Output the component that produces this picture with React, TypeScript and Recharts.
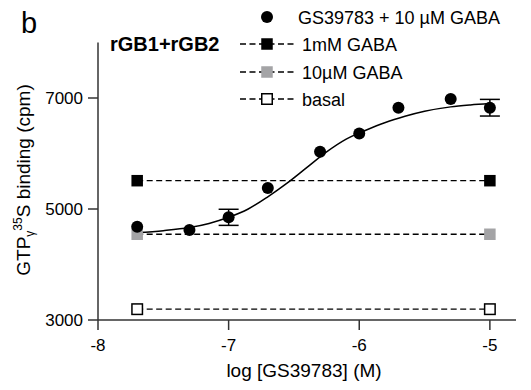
import React from 'react';
import { ComposedChart, Line, Scatter, XAxis, YAxis, ErrorBar } from 'recharts';

// GS39783 + 10 µM GABA (log M, cpm, SEM)
const gsLogConc = [-7.7, -7.3, -7.0, -6.7, -6.3, -6.0, -5.7, -5.3, -5.0];
const gsBinding = [4680, 4620, 4850, 5380, 6030, 6360, 6825, 6980, 6825];
const gsError = [0, 0, 145, 0, 0, 0, 0, 0, 150];

// fitted curve
const fitLogConc = [-7.7, -7.5, -7.3, -7.15, -7.0, -6.85, -6.7, -6.55, -6.4, -6.25, -6.1, -5.95, -5.8, -5.65, -5.5, -5.3, -5.15, -5.0];
const fitBinding = [4575, 4610, 4665, 4740, 4850, 5000, 5220, 5470, 5750, 6030, 6260, 6420, 6560, 6670, 6760, 6840, 6875, 6900];

// reference levels
const refLogConc = [-7.7, -5.0];
const gaba1mM = [5510, 5510];
const gaba10uM = [4545, 4545];
const basal = [3195, 3195];

const xTicks = [-8, -7, -6, -5];
const yTicks = [3000, 5000, 7000];

const legendLabels = ['GS39783 + 10 \u00b5M GABA', '1mM GABA', '10\u00b5M GABA', 'basal'];

const gsData = gsLogConc.map((x, i) => ({ x, y: gsBinding[i], err: gsError[i] }));
const fitData = fitLogConc.map((x, i) => ({ x, y: fitBinding[i] }));
const mk = (vals: number[]) => refLogConc.map((x, i) => ({ x, y: vals[i] }));

const FONT = '"Liberation Sans", Arial, Helvetica, sans-serif';
const GRAY = '#a4a4a6';
const AXIS = '#333';

const squareDot = (fill: string, stroke?: string) => (props: any) => {
  const { cx, cy, index } = props;
  if (cx == null || cy == null) return <g key={index} />;
  const s = stroke ? 10.5 : 11.5;
  return (
    <rect key={index} x={cx - s / 2} y={cy - s / 2} width={s} height={s} fill={fill}
      stroke={stroke || 'none'} strokeWidth={stroke ? 1.5 : 0} />
  );
};

const circleShape = (props: any) => <circle cx={props.cx} cy={props.cy} r={6} fill="#000" />;

const DASH = '6 3.5';

export default function App() {
  const rowY = [17, 44, 72, 99];
  return (
    <div style={{ position: 'relative', width: 531, height: 390, margin: '-8px 0 0 -8px', fontFamily: FONT, background: '#fff' }}>
      <ComposedChart width={531} height={390} margin={{ top: 42.5, right: 15, bottom: 0, left: 0 }} style={{ fontFamily: FONT }}>
        <XAxis type="number" dataKey="x" domain={[-8, -4.8]} ticks={xTicks} allowDataOverflow
          height={70} tickSize={10} tickMargin={9}
          axisLine={{ stroke: AXIS, strokeWidth: 1.5 }} tickLine={{ stroke: AXIS, strokeWidth: 1.5 }}
          tick={{ fill: '#000', fontSize: 17 }}
          label={{ value: 'log [GS39783] (M)', position: 'insideBottom', offset: 13, fill: '#000', fontSize: 19, dx: -3 }} />
        <YAxis type="number" dataKey="y" domain={[3000, 8000]} ticks={yTicks} allowDataOverflow
          width={98} tickSize={10} tickMargin={5}
          axisLine={{ stroke: AXIS, strokeWidth: 1.5 }} tickLine={{ stroke: AXIS, strokeWidth: 1.5 }}
          tick={{ fill: '#000', fontSize: 17 }} />
        <Line data={mk(basal)} dataKey="y" stroke="#000" strokeWidth={1.3} strokeDasharray={DASH}
          dot={squareDot('#fff', '#000')} activeDot={false} isAnimationActive={false} />
        <Line data={mk(gaba10uM)} dataKey="y" stroke="#000" strokeWidth={1.3} strokeDasharray={DASH}
          dot={squareDot(GRAY)} activeDot={false} isAnimationActive={false} />
        <Line data={mk(gaba1mM)} dataKey="y" stroke="#000" strokeWidth={1.3} strokeDasharray={DASH}
          dot={squareDot('#000')} activeDot={false} isAnimationActive={false} />
        <Line data={fitData} dataKey="y" type="monotone" stroke="#000" strokeWidth={1.5}
          dot={false} activeDot={false} isAnimationActive={false} />
        <Scatter data={gsData} dataKey="y" shape={circleShape} isAnimationActive={false}>
          <ErrorBar dataKey="err" direction="y" width={10} stroke="#000" strokeWidth={1.5} />
        </Scatter>
      </ComposedChart>
      <svg width={531} height={390} style={{ position: 'absolute', left: 0, top: 0, pointerEvents: 'none', fontFamily: FONT }}>
        <text x={21} y={33} fontSize={29} fill="#000">b</text>
        <text x={110} y={51} fontSize={20} fontWeight="bold" fill="#000">rGB1+rGB2</text>
        <text transform="rotate(-90)" x={-180} y={30} textAnchor="middle" fontSize={19} fill="#000">
          GTP<tspan fontSize={12} dy={4}>{'\u03b3'}</tspan><tspan fontSize={12} dy={-12}>35</tspan><tspan dy={8}>S binding (cpm)</tspan>
        </text>
        {/* legend */}
        <circle cx={267} cy={rowY[0]} r={6} fill="#000" />
        {[1, 2, 3].map((r) => (
          <line key={'l' + r} x1={240} x2={294} y1={rowY[r]} y2={rowY[r]} stroke="#000" strokeWidth={1.3} strokeDasharray={DASH} />
        ))}
        <rect x={261.25} y={rowY[1] - 5.75} width={11.5} height={11.5} fill="#000" />
        <rect x={261.25} y={rowY[2] - 5.75} width={11.5} height={11.5} fill={GRAY} />
        <rect x={261.75} y={rowY[3] - 5.25} width={10.5} height={10.5} fill="#fff" stroke="#000" strokeWidth={1.5} />
        {legendLabels.map((t, i) => (
          <text key={t} x={i === 0 ? 298 : 302} y={rowY[i] + 6.5} fontSize={18} fill="#000">{t}</text>
        ))}
      </svg>
    </div>
  );
}
